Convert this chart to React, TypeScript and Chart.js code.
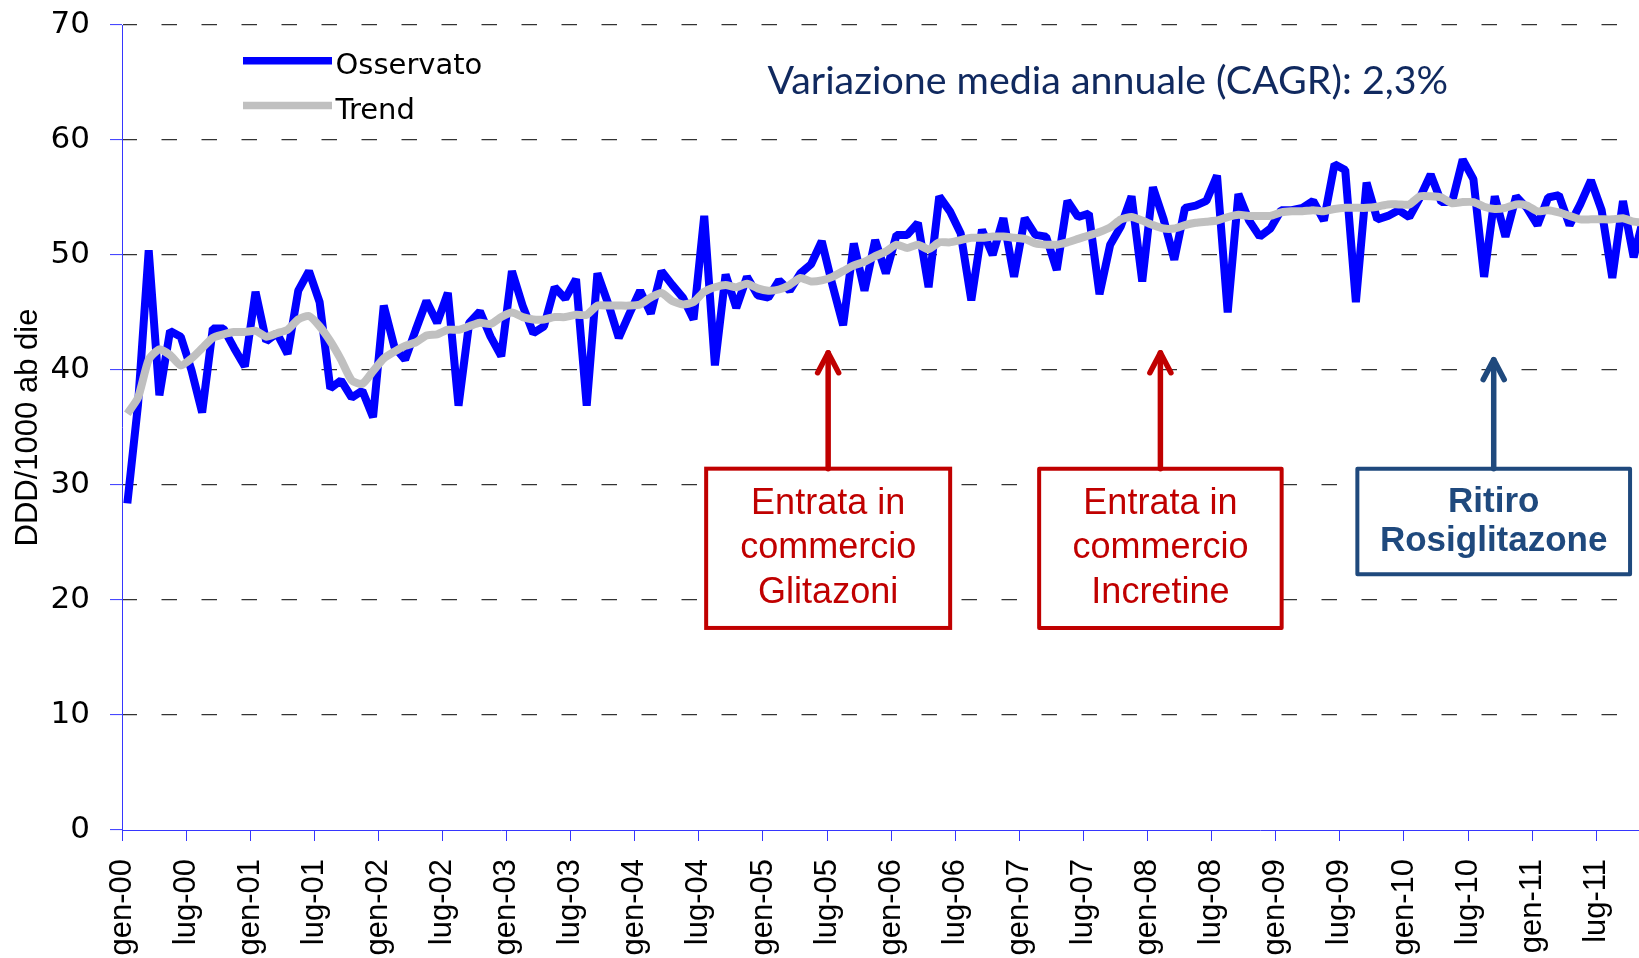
import React, { useEffect, useRef } from "react";
import { Chart, registerables } from "chart.js";

Chart.register(...registerables);

// ---- DATA ----
const tickLabels = [
  "gen-00", "lug-00", "gen-01", "lug-01", "gen-02", "lug-02", "gen-03", "lug-03",
  "gen-04", "lug-04", "gen-05", "lug-05", "gen-06", "lug-06", "gen-07", "lug-07",
  "gen-08", "lug-08", "gen-09", "lug-09", "gen-10", "lug-10", "gen-11", "lug-11",
];

const seriesNames = ["Osservato", "Trend"];

// monthly values, gen-00 .. dic-11
const osservato = [
  28.4, 37.0, 50.4, 37.8, 43.4, 42.9, 40.0, 36.3, 43.6, 43.6, 41.9, 40.3,
  46.8, 42.5, 43.2, 41.4, 46.9, 48.6, 45.9, 38.4, 39.1, 37.6, 38.2, 35.9,
  45.6, 42.0, 40.9, 43.5, 46.0, 44.1, 46.7, 36.9, 44.1, 45.1, 42.9, 41.2,
  48.6, 45.6, 43.2, 43.8, 47.2, 46.2, 47.9, 36.9, 48.4, 45.8, 42.8, 44.9,
  46.9, 44.9, 48.6, 47.4, 46.3, 44.4, 53.4, 40.4, 48.3, 45.4, 48.1, 46.5,
  46.3, 47.8, 46.9, 48.4, 49.2, 51.2, 47.4, 43.9, 51.0, 46.9, 51.3, 48.4,
  51.75, 51.75, 52.8, 47.2, 55.1, 53.8, 51.9, 46.05, 52.2, 50.0, 53.2, 48.1,
  53.2, 51.75, 51.6, 48.7, 54.7, 53.3, 53.6, 46.6, 50.9, 52.5, 55.1, 47.7,
  55.9, 53.1, 49.6, 54.1, 54.3, 54.7, 56.9, 45.0, 55.3, 53.0, 51.6, 52.3,
  53.9, 53.9, 54.1, 54.7, 53.0, 57.9, 57.4, 45.9, 56.3, 53.1, 53.4, 53.9,
  53.3, 55.0, 57.0, 54.6, 54.6, 58.3, 56.6, 48.1, 55.1, 51.6, 55.1, 54.1,
  52.6, 55.0, 55.2, 52.6, 54.4, 56.5, 53.9, 48.0, 54.7, 49.8, 53.5, 53.0,
];

const trend = [
  36.2, 37.6, 40.9, 41.8, 41.3, 40.4, 41.0, 41.9, 42.8, 43.1, 43.3, 43.3,
  43.4, 42.9, 43.2, 43.5, 44.4, 44.7, 43.8, 42.5, 40.9, 39.1, 38.8, 39.9,
  41.0, 41.6, 42.1, 42.4, 43.0, 43.1, 43.5, 43.5, 43.8, 44.1, 44.0, 44.6,
  45.0, 44.6, 44.4, 44.4, 44.6, 44.6, 44.8, 44.8, 45.6, 45.6, 45.6, 45.6,
  45.7, 46.3, 46.7, 46.0, 45.7, 45.9, 46.8, 47.2, 47.4, 47.2, 47.5, 47.1,
  46.9, 47.0, 47.4, 48.0, 47.7, 47.8, 48.1, 48.6, 49.1, 49.4, 49.9, 50.3,
  50.9, 50.6, 50.9, 50.5, 51.1, 51.1, 51.3, 51.5, 51.5, 51.6, 51.6, 51.5,
  51.4, 51.0, 50.9, 50.9, 51.1, 51.4, 51.7, 52.0, 52.4, 53.1, 53.3, 53.0,
  52.6, 52.3, 52.3, 52.6, 52.8, 52.9, 53.0, 53.3, 53.5, 53.4, 53.4, 53.4,
  53.7, 53.8, 53.8, 53.9, 53.8, 54.0, 54.1, 54.1, 54.1, 54.2, 54.4, 54.4,
  54.4, 55.1, 55.1, 55.0, 54.5, 54.6, 54.6, 54.2, 54.0, 54.1, 54.4, 54.3,
  53.8, 53.9, 53.7, 53.4, 53.1, 53.1, 53.1, 53.1, 53.2, 52.9, 52.8, 52.7,
];

const yTitle = "DDD/1000 ab die";
const headline = "Variazione media annuale (CAGR): 2,3%";

const noteTexts = [
  ["Entrata in", "commercio", "Glitazoni"],
  ["Entrata in", "commercio", "Incretine"],
  ["Ritiro", "Rosiglitazone"],
];
// anchor month (x-scale units) of each note's arrow
const noteMonths = [66.1, 97.2, 128.4];

// ---- STYLE / LAYOUT ----
const AXIS = "#3636ff";
const BLUE = "#0000ff";
const GREY = "#c0c0c0";
const RED = "#c00000";
const NAVY = "#1f497d";
const HEAD_COLOR = "#10295f";

const noteStyles = [
  { color: RED, bold: false, size: 36, lead: 44.5, w: 244, tip: 41.5, top: 31.42, bottom: 17.57 },
  { color: RED, bold: false, size: 36, lead: 44.5, w: 242.5, tip: 41.5, top: 31.42, bottom: 17.57 },
  { color: NAVY, bold: true, size: 35, lead: 39, w: 272.7, tip: 40.9, top: 31.42, bottom: 22.23 },
];

const overlay = {
  id: "overlay",
  afterDraw(chart: any) {
    const { ctx } = chart;
    const xs = chart.scales.x;
    const ys = chart.scales.y;
    ctx.save();

    // headline
    ctx.font = "40px Lato";
    const w40 = ctx.measureText(headline).width;
    const hs = (40 * 681) / w40;
    ctx.font = `${hs}px Lato`;
    ctx.fillStyle = HEAD_COLOR;
    ctx.textAlign = "left";
    ctx.textBaseline = "alphabetic";
    ctx.fillText(headline, 767.5, 94);

    // legend
    const rows = [60.7, 105.5];
    chart.data.datasets.forEach((ds: any, k: number) => {
      ctx.strokeStyle = ds.borderColor;
      ctx.lineWidth = 7.5;
      ctx.lineCap = "butt";
      ctx.beginPath();
      ctx.moveTo(243, rows[k]);
      ctx.lineTo(332, rows[k]);
      ctx.stroke();
      ctx.fillStyle = "#000";
      ctx.font = "29px 'DejaVu Sans'";
      ctx.fillText(ds.label, 335.5, rows[k] + 13);
    });

    // annotations
    noteTexts.forEach((lines, k) => {
      const st = noteStyles[k];
      const cx = xs.getPixelForValue(noteMonths[k]);
      const tipY = ys.getPixelForValue(st.tip);
      const top = ys.getPixelForValue(st.top);
      const bottom = ys.getPixelForValue(st.bottom);
      ctx.fillStyle = "#fff";
      ctx.fillRect(cx - st.w / 2, top, st.w, bottom - top);
      ctx.strokeStyle = st.color;
      ctx.lineWidth = 4;
      ctx.strokeRect(cx - st.w / 2, top, st.w, bottom - top);

      ctx.lineWidth = 5.5;
      ctx.lineCap = "round";
      ctx.lineJoin = "round";
      ctx.beginPath();
      ctx.moveTo(cx, top);
      ctx.lineTo(cx, tipY);
      ctx.stroke();
      ctx.beginPath();
      ctx.moveTo(cx - 10.5, tipY + 20);
      ctx.lineTo(cx, tipY);
      ctx.lineTo(cx + 10.5, tipY + 20);
      ctx.stroke();

      ctx.fillStyle = st.color;
      ctx.font = `${st.bold ? "bold " : ""}${st.size}px 'Liberation Sans'`;
      ctx.textAlign = "center";
      ctx.textBaseline = "middle";
      const cy = (top + bottom) / 2;
      lines.forEach((t, j) => {
        ctx.fillText(t, cx, cy + (j - (lines.length - 1) / 2) * st.lead);
      });
    });

    ctx.restore();
  },
};

export default function App() {
  const ref = useRef<HTMLCanvasElement | null>(null);

  useEffect(() => {
    if (!ref.current) return;
    const chart = new Chart(ref.current, {
      type: "line",
      data: {
        datasets: [
          {
            label: seriesNames[0],
            data: osservato.map((v, i) => ({ x: i + 0.5, y: v })),
            borderColor: BLUE,
            backgroundColor: BLUE,
            borderWidth: 8,
            borderJoinStyle: "bevel",
            pointRadius: 0,
            tension: 0,
            order: 1,
          },
          {
            label: seriesNames[1],
            data: trend.map((v, i) => ({ x: i + 0.5, y: v })),
            borderColor: GREY,
            backgroundColor: GREY,
            borderWidth: 8,
            borderJoinStyle: "round",
            pointRadius: 0,
            tension: 0.2,
            order: 0,
          },
        ],
      },
      options: {
        animation: false,
        responsive: true,
        maintainAspectRatio: false,
        layout: { padding: { top: 25, left: 0, right: 0, bottom: 0 } },
        plugins: { legend: { display: false }, tooltip: { enabled: false } },
        scales: {
          x: {
            type: "linear",
            min: 0,
            max: 142,
            afterBuildTicks: (s: any) => {
              s.ticks = tickLabels.map((_, k) => ({ value: k * 6 }));
            },
            afterFit: (s: any) => {
              s.height = 128;
              s.paddingRight = 0;
            },
            ticks: {
              autoSkip: false,
              minRotation: 90,
              maxRotation: 90,
              padding: 18,
              color: "#000",
              font: { family: "'Liberation Sans', Arial, sans-serif", size: 31 },
              callback: (_v: any, i: number) => tickLabels[i] ?? "",
            },
            grid: {
              display: true,
              drawOnChartArea: false,
              drawTicks: true,
              tickLength: 11,
              tickColor: AXIS,
              tickWidth: 1,
            },
            border: { display: true, color: AXIS, width: 1 },
          },
          y: {
            min: 0,
            max: 70,
            afterFit: (s: any) => {
              s.width = 122;
              s.paddingTop = 0;
              s.paddingBottom = 0;
            },
            ticks: {
              stepSize: 10,
              padding: 20,
              color: "#000",
              font: { family: "'DejaVu Sans', sans-serif", size: 31 },
            },
            grid: {
              color: (c: any) => (c.tick && c.tick.value === 0 ? "rgba(0,0,0,0)" : "#333"),
              lineWidth: 1.2,
              drawTicks: true,
              tickLength: 12,
              tickColor: AXIS,
              tickWidth: 1,
            },
            border: { display: true, color: AXIS, width: 1, dash: [15.5, 24.5], dashOffset: 1.5 },
            title: {
              display: true,
              text: yTitle,
              color: "#000",
              font: { family: "'Liberation Sans', Arial, sans-serif", size: 31 },
              padding: { top: 10, bottom: 0 },
            },
          },
        },
      },
      plugins: [overlay],
    } as any);
    return () => chart.destroy();
  }, []);

  return (
    <div
      style={{
        position: "absolute",
        left: 0,
        top: 0,
        width: 1639,
        height: 958,
        overflow: "hidden",
        background: "#fff",
      }}
    >
      <canvas ref={ref} />
    </div>
  );
}
